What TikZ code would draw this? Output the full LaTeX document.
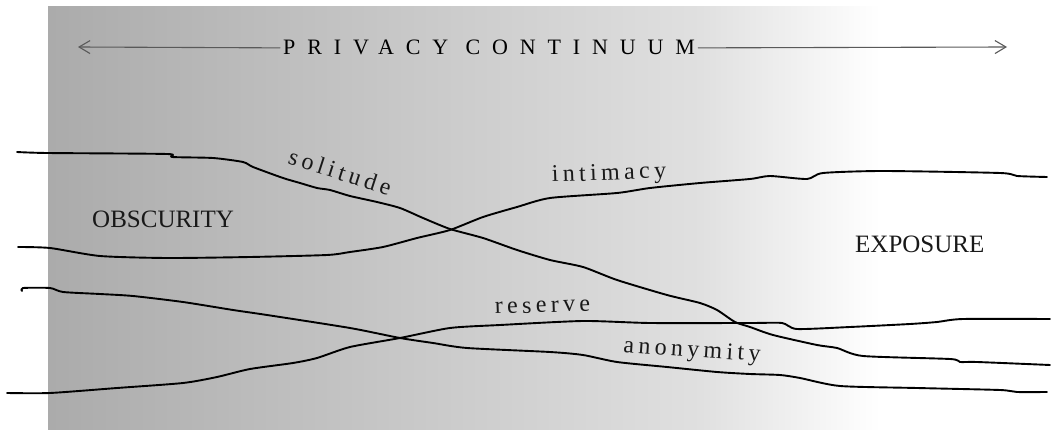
\documentclass[tikz,border=0pt]{standalone}
\usepackage{fontspec}
\setmainfont{Liberation Serif}
\newfontfamily\labelfont[LetterSpace=18]{Liberation Serif}
\newfontfamily\titlefont[LetterSpace=54]{Liberation Serif}
\usetikzlibrary{arrows.meta, positioning}
\definecolor{bgdark}{gray}{0.67}
\definecolor{bgmid}{gray}{0.878}
\definecolor{arrowgray}{gray}{0.35}
\pgfkeys{/tikz/.cd,
    overall style/.style={
        x=1pt, y=-1pt,          % pixel-like units, y downwards
        line join=round,
        line cap=round
    },
    wobbly/.style={line width=1.9pt, black},
    titletext/.style={font=\titlefont\fontsize{22}{25}\selectfont, text=black, inner sep=3pt},
    sidetext/.style={font=\fontsize{25}{30}\selectfont, text=black!90, inner sep=0pt},
    curvelabel/.style={font=\labelfont\fontsize{24}{28}\selectfont, text=black!90, inner sep=0pt},
    titlearrow/.style={draw=arrowgray, line width=1.1pt, -{Straight Barb[length=11pt, width=13pt]}}
}

\begin{document}
\begin{tikzpicture}[overall style]

    % --- 1. frame and background shading ---
    \useasboundingbox (0,0) rectangle (1054,430);
    \shade[left color=bgdark, right color=bgmid] (48,7) rectangle (701,430);
    \shade[left color=bgmid, right color=white] (700,7) rectangle (880,430);

    % --- 2. continuum arrow and title ---
    \node[titletext, anchor=base west] (title) at (280,55) {PRIVACY CONTINUUM};
    \coordinate (leftend) at (78,47);
    \coordinate (rightend) at (1007,47);
    \draw[titlearrow] (title.west) -- (leftend);
    \draw[titlearrow] (title.east) -- (rightend);

    % --- 3. side labels ---
    \node[sidetext, anchor=base west] (obscurity) at (92,228) {OBSCURITY};
    \node[sidetext, anchor=base west] (exposure) at (855,252) {EXPOSURE};

    % --- 4. hand-drawn curves ---
    % solitude
    \draw[wobbly] plot[smooth, tension=0.4] coordinates {
        (17,152) (47,153) (167,154) (172,157) (213,158) (243,162) (253,167)
        (283,178) (300,183) (317,188) (330,190) (350,196) (377,202) (400,208)
        (423,218) (450,229) (483,238) (517,250) (550,260) (583,267) (617,280)
        (667,295) (700,303) (717,310) (735,322) (750,327) (773,335) (817,345)
        (837,348) (863,356) (950,359) (960,362) (977,362) (1050,365)};
    % intimacy
    \draw[wobbly] plot[smooth, tension=0.4] coordinates {
        (18,247) (50,248) (100,256) (167,258) (250,257) (327,255) (350,252)
        (383,247) (417,238) (450,230) (483,217) (517,207) (550,198) (617,193)
        (650,188) (700,183) (750,179) (770,176) (807,179) (823,173) (883,171)
        (1000,173) (1017,176) (1047,177)};
    % anonymity
    \draw[wobbly] plot[smooth, tension=0.4] coordinates {
        (22,291) (23,288) (50,288) (63,292) (100,294) (133,296) (183,302)
        (233,310) (267,315) (350,328) (400,338) (433,343) (467,348) (550,352)
        (583,355) (617,362) (667,367) (717,372) (750,374) (780,375) (800,378)
        (840,386) (917,388) (1000,390) (1017,392) (1047,392)};
    % reserve
    \draw[wobbly] plot[smooth, tension=0.4] coordinates {
        (7,393) (50,393) (117,388) (183,383) (217,377) (250,369) (293,363)
        (317,358) (350,347) (400,338) (450,328) (500,325) (583,321) (650,323)
        (750,323) (782,323) (797,329) (850,327) (910,324) (937,322) (963,319)
        (1050,319)};

    % --- 5. curve labels ---
    \node[curvelabel, anchor=base west, rotate=-18] (solitude) at (287,163) {solitude};
    \node[curvelabel, anchor=base west, rotate=2] (intimacy) at (552,182) {intimacy};
    \node[curvelabel, anchor=base west, rotate=2] (reserve) at (495,314) {reserve};
    \node[curvelabel, anchor=base west, rotate=-4] (anonymity) at (623,352) {anonymity};

\end{tikzpicture}
\end{document}
